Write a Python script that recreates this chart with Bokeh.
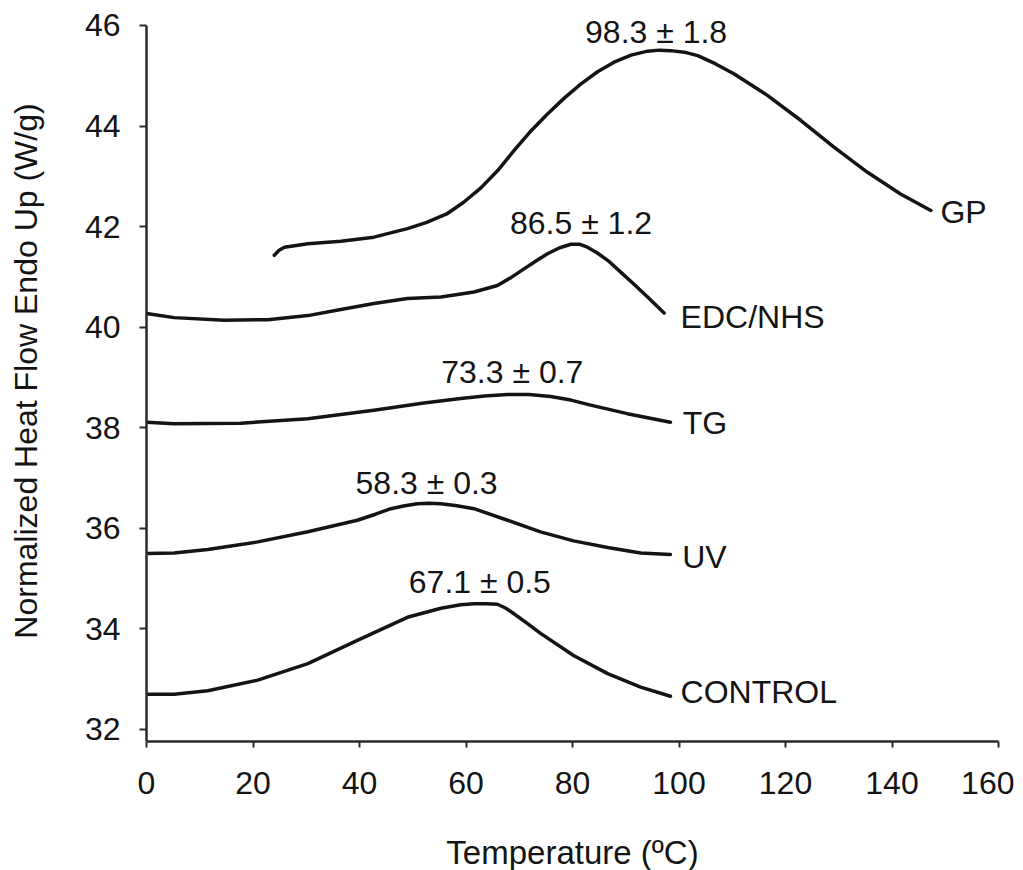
from bokeh.plotting import figure
from bokeh.models import Range1d, FixedTicker, Label
from bokeh.embed import file_html
from bokeh.resources import INLINE

# ---- data (Temperature in C, heat flow in W/g) ----
gp_x = [24.0, 24.9, 25.9, 30.3, 36.5, 42.7, 49.0, 52.5, 56.5, 59.5, 62.8, 66.0, 69.0, 72.0, 75.3,
        78.5, 81.6, 84.7, 87.8, 91.0, 94.1, 96.3, 98.4, 101.0, 103.5, 106.8, 110.3, 116.6, 122.9,
        129.1, 135.4, 141.6, 147.3]
gp_y = [41.43, 41.53, 41.59, 41.66, 41.71, 41.79, 41.96, 42.08, 42.26, 42.48, 42.77, 43.12, 43.51,
        43.88, 44.24, 44.56, 44.84, 45.08, 45.27, 45.41, 45.49, 45.51, 45.50, 45.47, 45.40, 45.24,
        45.04, 44.61, 44.11, 43.58, 43.08, 42.65, 42.32]

edc_x = [0.0, 5.2, 14.6, 22.8, 30.3, 36.5, 42.7, 49.0, 55.3, 61.5, 65.9, 68.5, 70.9, 73.2, 75.3,
         77.6, 79.7, 81.3, 82.8, 84.6, 86.6, 89.0, 91.5, 94.4, 97.2]
edc_y = [40.27, 40.19, 40.14, 40.15, 40.23, 40.35, 40.47, 40.57, 40.60, 40.70, 40.83, 40.99, 41.16,
         41.32, 41.46, 41.58, 41.65, 41.65, 41.59, 41.48, 41.33, 41.10, 40.86, 40.57, 40.28]

tg_x = [0.0, 5.2, 17.7, 30.3, 42.7, 52.1, 59.0, 63.5, 67.8, 71.8, 75.9, 79.7, 83.4, 90.3, 98.4]
tg_y = [38.11, 38.08, 38.09, 38.18, 38.35, 38.49, 38.58, 38.63, 38.66, 38.66, 38.62, 38.55, 38.45,
        38.28, 38.11]

uv_x = [0.0, 5.2, 11.5, 20.9, 30.3, 39.6, 43.0, 45.9, 48.5, 50.9, 53.0, 55.3, 58.3, 61.5, 67.8,
        74.0, 80.2, 86.6, 92.8, 98.4]
uv_y = [35.50, 35.51, 35.58, 35.73, 35.93, 36.16, 36.28, 36.39, 36.45, 36.49, 36.50, 36.49, 36.45,
        36.39, 36.16, 35.93, 35.75, 35.62, 35.51, 35.48]

ctl_x = [0.0, 5.2, 11.5, 20.9, 30.3, 39.6, 49.0, 55.3, 59.0, 61.5, 63.8, 65.9, 67.5, 69.0, 71.5,
         74.0, 80.2, 86.6, 92.8, 98.4]
ctl_y = [32.70, 32.70, 32.77, 32.98, 33.31, 33.77, 34.23, 34.41, 34.48, 34.50, 34.50, 34.49, 34.41,
         34.30, 34.11, 33.91, 33.47, 33.11, 32.84, 32.66]

series_names = ["GP", "EDC/NHS", "TG", "UV", "CONTROL"]
name_x = [149.1, 100.3, 100.7, 100.6, 100.3]
name_y = [42.29, 40.21, 38.10, 35.43, 32.75]

peak_text = ["98.3 \u00b1 1.8", "86.5 \u00b1 1.2", "73.3 \u00b1 0.7", "58.3 \u00b1 0.3", "67.1 \u00b1 0.5"]
peak_x = [95.7, 81.6, 68.7, 52.6, 62.6]
peak_y = [45.87, 42.08, 39.10, 36.91, 34.94]

x_ticks = [0, 20, 40, 60, 80, 100, 120, 140, 160]
y_ticks = [32, 34, 36, 38, 40, 42, 44, 46]

FONT = "Liberation Sans"
INK = "#141414"

Y0, Y1 = 31.76, 46.0
Y_TOP = Y1 + 25 / 50.3   # headroom above the axis end so the top annotation is not clipped

p = figure(frame_width=852, frame_height=741,
           x_range=Range1d(0, 160), y_range=Range1d(Y0, Y_TOP),
           output_backend="svg", toolbar_location=None,
           min_border_left=146, min_border_right=16, min_border_top=0, min_border_bottom=126)

p.grid.visible = False
p.outline_line_color = None
p.background_fill_color = "white"
p.border_fill_color = "white"

for ax in (p.xaxis[0], p.yaxis[0]):
    ax.axis_line_color = "#2a2a2a"
    ax.axis_line_width = 2.5
    ax.major_tick_line_color = "#2a2a2a"
    ax.major_tick_line_width = 2
    ax.major_tick_in = 0
    ax.minor_tick_line_color = None
    ax.major_label_text_font = FONT
    ax.major_label_text_font_size = "32px"
    ax.major_label_text_color = INK
    ax.axis_label_text_font = FONT
    ax.axis_label_text_font_style = "normal"
    ax.axis_label_text_color = INK

p.yaxis.bounds = (Y0, Y1)
p.xaxis.axis_label_text_font_size = "33px"
p.yaxis.axis_label_text_font_size = "32px"
p.xaxis.ticker = FixedTicker(ticks=x_ticks)
p.yaxis.ticker = FixedTicker(ticks=y_ticks)
p.xaxis.major_tick_out = 6
p.yaxis.major_tick_out = 7
p.xaxis.major_label_standoff = 24
p.yaxis.major_label_standoff = 19
p.xaxis.axis_label = "Temperature (\u00baC)"
p.yaxis.axis_label = "Normalized Heat Flow Endo Up (W/g)"
p.xaxis.axis_label_standoff = 37
p.yaxis.axis_label_standoff = 38

for xs, ys in [(gp_x, gp_y), (edc_x, edc_y), (tg_x, tg_y), (uv_x, uv_y), (ctl_x, ctl_y)]:
    p.line(xs, ys, line_color=INK, line_width=3.5, line_join="round", line_cap="round")

for t, x, y in zip(series_names, name_x, name_y):
    p.add_layout(Label(x=x, y=y, text=t, text_font=FONT, text_font_size="32px",
                       text_color=INK, text_align="left", text_baseline="middle"))

for t, x, y in zip(peak_text, peak_x, peak_y):
    p.add_layout(Label(x=x, y=y, text=t, text_font=FONT, text_font_size="32px",
                       text_color=INK, text_align="center", text_baseline="middle"))

open("out.html", "w").write(file_html(p, INLINE))
